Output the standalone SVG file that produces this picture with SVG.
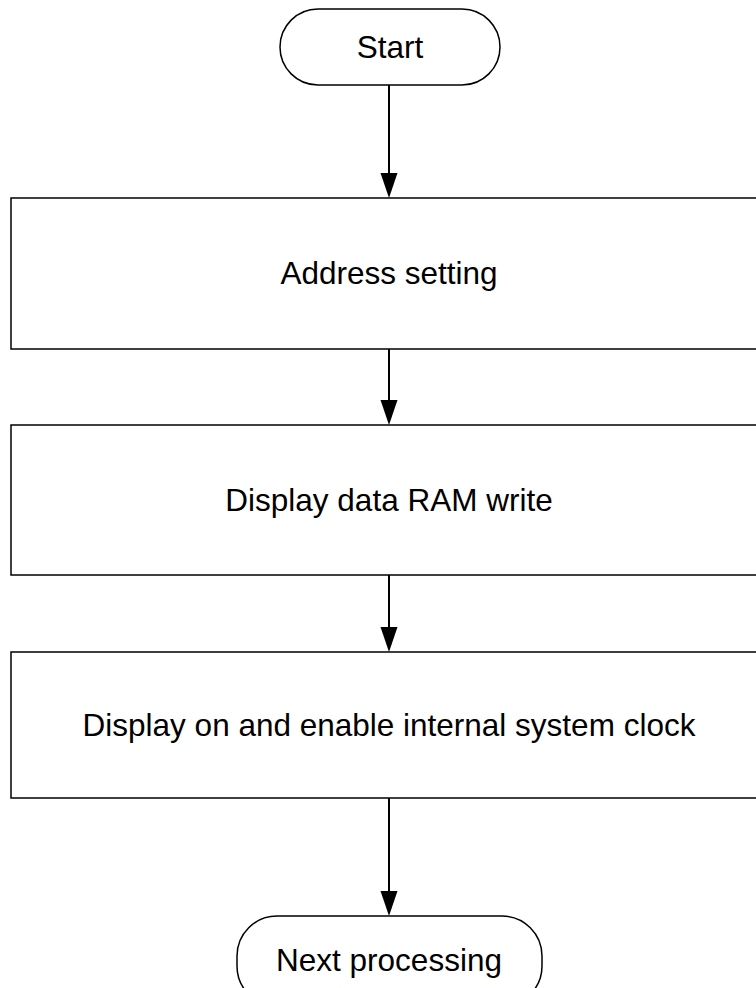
<svg xmlns="http://www.w3.org/2000/svg" width="756" height="988" viewBox="0 0 756 988">
<defs>
<style>
.box{fill:#fff;stroke:#000;stroke-width:1.5}
.t{font-family:"Liberation Sans",Arial,sans-serif;font-size:31.5px;fill:#000;text-anchor:middle}
.c{stroke:#000;stroke-width:2;fill:none}
.h{fill:#000}
</style>
</defs>
<rect width="756" height="988" fill="#fff"/>
<g id="connectors">
<line class="c" x1="389" y1="85" x2="389" y2="174"/><path class="h" d="M380.5,173 L397.5,173 L389,198 Z"/>
<line class="c" x1="389" y1="349" x2="389" y2="401"/><path class="h" d="M380.5,400 L397.5,400 L389,425 Z"/>
<line class="c" x1="389" y1="575" x2="389" y2="628"/><path class="h" d="M380.5,627 L397.5,627 L389,652 Z"/>
<line class="c" x1="389" y1="798" x2="389" y2="892"/><path class="h" d="M380.5,891 L397.5,891 L389,916 Z"/>
</g>
<g id="start"><rect class="box" x="280" y="9" width="220" height="76" rx="38"/><text class="t" x="390" y="58">Start</text></g>
<g id="n1"><rect class="box" x="11" y="198" width="760" height="151"/><text class="t" x="389" y="284">Address setting</text></g>
<g id="n2"><rect class="box" x="11" y="425" width="760" height="150"/><text class="t" x="389" y="511">Display data RAM write</text></g>
<g id="n3"><rect class="box" x="11" y="652" width="760" height="146"/><text class="t" x="389" y="736">Display on and enable internal system clock</text></g>
<g id="end"><rect class="box" x="237" y="916" width="305" height="90" rx="40"/><text class="t" x="389" y="971">Next processing</text></g>
</svg>
